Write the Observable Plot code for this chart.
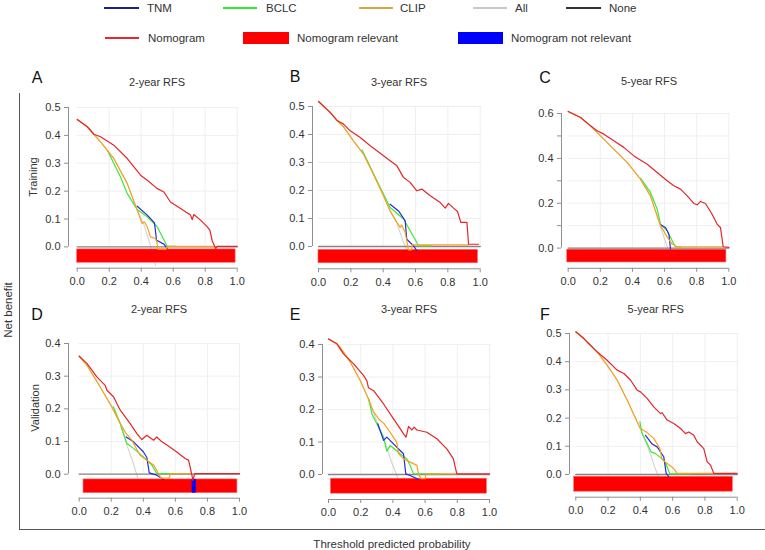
<!DOCTYPE html>
<html>
<head>
<meta charset="utf-8">
<script src="https://cdn.jsdelivr.net/npm/d3@7"></script>
<script src="https://cdn.jsdelivr.net/npm/@observablehq/plot@0.6"></script>
<style>
  html, body { margin: 0; padding: 0; background: #fff; }
  #root { position: relative; width: 765px; height: 550px; overflow: hidden; background: #fff;
          font-family: 'Liberation Sans', Arial, Helvetica, sans-serif; color: #333; }
  .abs { position: absolute; white-space: nowrap; }
  .ctr { transform: translate(-50%, -50%); }
  .rot { transform: translate(-50%, -50%) rotate(-90deg); }
</style>
</head>
<body>
<div id="root"></div>
<script>
// ---------------- DATA ----------------
const xTicks = [0, 0.2, 0.4, 0.6, 0.8, 1.0];
const xTickLabels = ["0.0", "0.2", "0.4", "0.6", "0.8", "1.0"];

const yTicksA = [0, 0.1, 0.2, 0.3, 0.4, 0.5];
const yLabelsA = ["0.0", "0.1", "0.2", "0.3", "0.4", "0.5"];
const yTicksC = [0, 0.1, 0.2, 0.3, 0.4, 0.5, 0.6];
const yLabelsC = ["0.0", "", "0.2", "", "0.4", "", "0.6"];
const yTicksD = [0, 0.1, 0.2, 0.3, 0.4];
const yLabelsD = ["0.0", "0.1", "0.2", "0.3", "0.4"];

const panelLetters = ["A", "B", "C", "D", "E", "F"];
const panelTitles = ["2-year RFS", "3-year RFS", "5-year RFS", "2-year RFS", "3-year RFS", "5-year RFS"];
const rowLabels = ["Training", "Validation"];

const legendRow1 = ["TNM", "BCLC", "CLIP", "All", "None"];
const legendRow1Colors = ["#1e1e8c", "#33ea33", "#dca63e", "#c8c8c8", "#333333"];
const legendRow2 = ["Nomogram", "Nomogram relevant", "Nomogram not relevant"];
const legendRow2Colors = ["#e8282e", "#ff0000", "#0000ff"];

const noneLine = [[0, 0], [1, 0]];

// Panel A (Training, 2-year)
const nomA = [[0,0.457],[0.063,0.431],[0.104,0.404],[0.146,0.395],[0.229,0.365],[0.313,0.317],[0.396,0.257],[0.438,0.239],[0.5,0.209],[0.542,0.197],[0.583,0.161],[0.646,0.138],[0.708,0.114],[0.719,0.098],[0.729,0.116],[0.771,0.096],[0.813,0.072],[0.829,0.060],[0.844,0.022],[0.865,-0.006],[0.875,0.002],[1.0,0.002]];
const clipA = [[0,0.457],[0.063,0.431],[0.104,0.404],[0.146,0.377],[0.229,0.317],[0.313,0.227],[0.375,0.132],[0.406,0.084],[0.42,0.090],[0.438,0.072],[0.458,0.036],[0.49,0.030],[0.5,0.012],[0.503,-0.008],[0.556,-0.008],[0.562,0.002],[0.87,0.002]];
const bclcA = [[0.19,0.345],[0.271,0.251],[0.313,0.191],[0.375,0.134],[0.438,0.108],[0.5,0.072],[0.5625,0.002],[0.62,0.002]];
const tnmA = [[0.375,0.146],[0.438,0.114],[0.483,0.086],[0.496,0.024],[0.542,0.010],[0.5625,-0.006]];
const allA = [[0,0.457],[0.063,0.431],[0.104,0.404],[0.146,0.377],[0.229,0.317],[0.313,0.227],[0.375,0.132],[0.417,0.080],[0.45,0.020],[0.49,-0.066]];
const relA = [[0, 0.99]];
const notRelA = [];
const bandA = [-0.009, -0.057];

// Panel B (Training, 3-year)
const nomB = [[0,0.518],[0.072,0.479],[0.113,0.451],[0.155,0.437],[0.196,0.413],[0.258,0.389],[0.32,0.36],[0.361,0.342],[0.443,0.306],[0.485,0.288],[0.526,0.246],[0.567,0.229],[0.608,0.199],[0.639,0.205],[0.691,0.181],[0.753,0.157],[0.784,0.137],[0.804,0.154],[0.835,0.137],[0.86,0.125],[0.88,0.086],[0.918,0.086],[0.928,0.008],[0.99,0.008]];
const clipB = [[0,0.518],[0.072,0.479],[0.113,0.451],[0.155,0.427],[0.216,0.377],[0.278,0.33],[0.34,0.258],[0.402,0.181],[0.443,0.127],[0.485,0.086],[0.505,0.068],[0.515,0.077],[0.536,0.05],[0.546,0.02],[0.556,-0.012],[0.575,-0.012],[0.58,0.006],[0.928,0.006]];
const bclcB = [[0.27,0.345],[0.361,0.235],[0.443,0.139],[0.526,0.098],[0.608,0.014],[0.619,0.002],[0.7,0.002]];
const tnmB = [[0.443,0.151],[0.495,0.127],[0.536,0.092],[0.546,0.026],[0.588,0.002],[0.608,-0.015]];
const allB = [[0,0.518],[0.072,0.479],[0.113,0.451],[0.155,0.427],[0.216,0.377],[0.278,0.33],[0.34,0.258],[0.402,0.181],[0.443,0.127],[0.485,0.082],[0.52,0.025],[0.546,-0.015],[0.565,-0.06]];
const relB = [[0, 0.986]];
const notRelB = [];
const bandB = [-0.012, -0.06];

// Panel C (Training, 5-year)
const nomC = [[0,0.609],[0.077,0.582],[0.139,0.545],[0.18,0.523],[0.222,0.508],[0.284,0.478],[0.346,0.449],[0.409,0.411],[0.492,0.374],[0.554,0.337],[0.616,0.30],[0.658,0.278],[0.699,0.263],[0.741,0.233],[0.782,0.199],[0.803,0.193],[0.824,0.208],[0.855,0.199],[0.896,0.151],[0.927,0.107],[0.948,0.092],[0.965,0.006],[1.0,0.003]];
const clipC = [[0,0.609],[0.077,0.582],[0.139,0.545],[0.201,0.50],[0.284,0.441],[0.367,0.382],[0.45,0.307],[0.512,0.233],[0.575,0.10],[0.616,0.05],[0.647,0.018],[0.678,0.006],[0.965,0.006]];
const bclcC = [[0.45,0.312],[0.512,0.248],[0.554,0.174],[0.575,0.107],[0.616,0.077],[0.658,0.018],[0.668,0.006],[0.70,0.006]];
const tnmC = [[0.575,0.104],[0.606,0.092],[0.627,0.062],[0.637,-0.004]];
const allC = [[0,0.609],[0.077,0.582],[0.139,0.545],[0.201,0.50],[0.284,0.441],[0.367,0.382],[0.45,0.307],[0.512,0.233],[0.57,0.105],[0.6,0.04],[0.62,0.0],[0.64,-0.05]];
const relC = [[-0.006, 0.985]];
const notRelC = [];
const bandC = [-0.007, -0.064];

// Panel D (Validation, 2-year)
const nomD = [[0,0.361],[0.048,0.339],[0.11,0.298],[0.162,0.272],[0.173,0.257],[0.214,0.237],[0.256,0.196],[0.318,0.155],[0.36,0.124],[0.391,0.106],[0.422,0.119],[0.464,0.104],[0.484,0.114],[0.516,0.099],[0.547,0.089],[0.609,0.068],[0.661,0.048],[0.682,0.043],[0.692,0.022],[0.703,-0.003],[0.71,-0.02],[0.72,0.002],[1.0,0.002]];
const clipD = [[0,0.361],[0.048,0.334],[0.131,0.267],[0.204,0.206],[0.256,0.155],[0.293,0.124],[0.328,0.104],[0.38,0.058],[0.422,0.043],[0.464,0.028],[0.495,0.002],[0.51,-0.012],[0.56,-0.012],[0.57,0.002],[0.70,0.002]];
const bclcD = [[0.214,0.206],[0.256,0.155],[0.297,0.094],[0.339,0.079],[0.401,0.053],[0.453,0.028],[0.484,0.002],[0.578,0.002]];
const tnmD = [[0.293,0.114],[0.339,0.099],[0.401,0.068],[0.422,0.051],[0.437,0.004],[0.484,-0.003],[0.526,-0.016]];
const allD = [[0,0.361],[0.048,0.334],[0.131,0.267],[0.204,0.206],[0.256,0.155],[0.3,0.085],[0.33,0.045],[0.36,-0.003],[0.38,-0.04]];
const relD = [[0.027, 0.987]];
const notRelD = [[0.705, 0.73]];
const bandD = [-0.016, -0.058];

// Panel E (Validation, 3-year)
const nomE = [[0,0.417],[0.052,0.402],[0.093,0.371],[0.155,0.341],[0.217,0.305],[0.238,0.289],[0.248,0.267],[0.28,0.258],[0.342,0.217],[0.404,0.171],[0.445,0.141],[0.466,0.125],[0.482,0.115],[0.497,0.148],[0.518,0.137],[0.532,0.146],[0.549,0.137],[0.611,0.13],[0.673,0.11],[0.735,0.079],[0.776,0.048],[0.787,0.023],[0.797,0.002],[1.0,0.002]];
const clipE = [[0,0.417],[0.052,0.402],[0.072,0.392],[0.135,0.346],[0.197,0.289],[0.248,0.233],[0.275,0.197],[0.311,0.171],[0.342,0.158],[0.383,0.13],[0.424,0.099],[0.435,0.064],[0.466,0.048],[0.549,0.028],[0.559,0.002],[0.575,-0.013],[0.6,-0.013],[0.605,0.002],[0.797,0.002]];
const bclcE = [[0.248,0.233],[0.259,0.212],[0.269,0.187],[0.30,0.156],[0.342,0.115],[0.362,0.072],[0.383,0.089],[0.445,0.064],[0.487,0.048],[0.507,0.028],[0.528,0.002],[0.683,0.002]];
const tnmE = [[0.306,0.156],[0.342,0.105],[0.362,0.115],[0.424,0.084],[0.466,0.064],[0.48,0.002],[0.507,-0.003],[0.559,-0.015]];
const allE = [[0,0.417],[0.052,0.402],[0.072,0.392],[0.135,0.346],[0.197,0.289],[0.248,0.233],[0.3,0.163],[0.342,0.11],[0.362,0.084],[0.39,0.04],[0.424,-0.003],[0.45,-0.05]];
const relE = [[0.015, 0.984]];
const notRelE = [];
const bandE = [-0.013, -0.059];

// Panel F (Validation, 5-year)
const nomF = [[0,0.506],[0.05,0.482],[0.07,0.47],[0.132,0.435],[0.194,0.405],[0.256,0.37],[0.298,0.358],[0.339,0.335],[0.38,0.299],[0.401,0.293],[0.442,0.27],[0.483,0.24],[0.525,0.216],[0.535,0.219],[0.566,0.193],[0.607,0.181],[0.649,0.163],[0.68,0.145],[0.7,0.151],[0.731,0.139],[0.752,0.116],[0.793,0.092],[0.814,0.045],[0.835,0.033],[0.855,0.004],[1.0,0.004]];
const clipF = [[0,0.506],[0.05,0.482],[0.07,0.47],[0.132,0.435],[0.194,0.388],[0.256,0.335],[0.318,0.264],[0.38,0.187],[0.401,0.163],[0.436,0.151],[0.483,0.128],[0.521,0.092],[0.535,0.053],[0.566,0.039],[0.607,0.021],[0.628,0.004],[0.855,0.004]];
const bclcF = [[0.397,0.187],[0.411,0.145],[0.442,0.11],[0.467,0.08],[0.494,0.074],[0.545,0.051],[0.566,0.027],[0.583,0.002],[0.71,0.002]];
const tnmF = [[0.432,0.139],[0.473,0.108],[0.504,0.098],[0.545,0.063],[0.56,0.004],[0.576,-0.008]];
const allF = [[0,0.506],[0.05,0.482],[0.07,0.47],[0.132,0.435],[0.194,0.388],[0.256,0.335],[0.318,0.264],[0.38,0.187],[0.42,0.135],[0.46,0.075],[0.49,0.025],[0.51,-0.005],[0.53,-0.04]];
const relF = [[-0.01, 0.973]];
const notRelF = [];
const bandF = [-0.008, -0.061];

// ---------------- STYLES & LAYOUT ----------------
const COL = { nom: "#e3262b", tnm: "#2a2ae0", bclc: "#3be83b", clip: "#f4a21e", all: "#d2d2d2", none: "#858585",
              rel: "#ff0000", notRel: "#0000ff", axis: "#8f8f8f", grid: "#efefef", text: "#333" };
const FONT = "'Liberation Sans', Arial, Helvetica, sans-serif";

// L: y-axis line px, B: x-axis line px, x0/x1: px of x=0/1, y0: px of y=0, yT: px of top tick T
const layouts = [
  { L: 68,    B: 268,   x0: 76.7,  x1: 236.7, y0: 246.7, T: 0.5, yT: 107.3, letter: [37, 78],  title: [157, 82] },
  { L: 312.3, B: 268,   x0: 318.3, x1: 480,   y0: 245.7, T: 0.5, yT: 105.7, letter: [295, 77], title: [399, 82] },
  { L: 561,   B: 267.5, x0: 567.7, x1: 728.3, y0: 247.3, T: 0.6, yT: 112.7, letter: [545, 78], title: [649, 81] },
  { L: 68.3,  B: 498,   x0: 79,    x1: 239.3, y0: 474,   T: 0.4, yT: 343.3, letter: [37, 315], title: [159, 309] },
  { L: 322.3, B: 499,   x0: 328.3, x1: 489.3, y0: 474,   T: 0.4, yT: 344,   letter: [295, 315], title: [409, 309] },
  { L: 569,   B: 497,   x0: 575.3, x1: 736.7, y0: 474.3, T: 0.5, yT: 333.3, letter: [545, 315], title: [655.7, 309] }
];

const panels = [
  { nom: nomA, tnm: tnmA, bclc: bclcA, clip: clipA, all: allA, rel: relA, notRel: notRelA, band: bandA, yTicks: yTicksA, yLabels: yLabelsA },
  { nom: nomB, tnm: tnmB, bclc: bclcB, clip: clipB, all: allB, rel: relB, notRel: notRelB, band: bandB, yTicks: yTicksA, yLabels: yLabelsA },
  { nom: nomC, tnm: tnmC, bclc: bclcC, clip: clipC, all: allC, rel: relC, notRel: notRelC, band: bandC, yTicks: yTicksC, yLabels: yLabelsC },
  { nom: nomD, tnm: tnmD, bclc: bclcD, clip: clipD, all: allD, rel: relD, notRel: notRelD, band: bandD, yTicks: yTicksD, yLabels: yLabelsD },
  { nom: nomE, tnm: tnmE, bclc: bclcE, clip: clipE, all: allE, rel: relE, notRel: notRelE, band: bandE, yTicks: yTicksD, yLabels: yLabelsD },
  { nom: nomF, tnm: tnmF, bclc: bclcF, clip: clipF, all: allF, rel: relF, notRel: notRelF, band: bandF, yTicks: yTicksA, yLabels: yLabelsA }
];

const root = document.getElementById("root");

function addText(txt, x, y, size, cls, extra) {
  const d = document.createElement("div");
  d.className = "abs " + cls;
  d.textContent = txt;
  d.style.left = x + "px";
  d.style.top = y + "px";
  d.style.fontSize = size + "px";
  if (extra) Object.assign(d.style, extra);
  root.appendChild(d);
  return d;
}

function drawPanel(p, lay, i) {
  const sx = lay.x1 - lay.x0;
  const sy = (lay.y0 - lay.yT) / lay.T;
  const right = lay.x1 + 7, top = lay.yT - 8;
  const xmin = (lay.L - lay.x0) / sx, xmax = (right - lay.x0) / sx;
  const ymin = -(lay.B - lay.y0) / sy, ymax = (lay.y0 - top) / sy;
  const mL = 34, mR = 4, mT = 2, mB = 26;
  const ymaxTick = p.yTicks[p.yTicks.length - 1];
  const line = (data, color, w) => Plot.line(data, { x: d => d[0], y: d => d[1], stroke: color, strokeWidth: w, clip: true });
  const chart = Plot.plot({
    width: mL + (right - lay.L) + mR,
    height: mT + (lay.B - top) + mB,
    marginLeft: mL, marginRight: mR, marginTop: mT, marginBottom: mB,
    style: { fontFamily: FONT, fontSize: "11px", background: "transparent", overflow: "visible" },
    x: { domain: [xmin, xmax] },
    y: { domain: [ymin, ymax] },
    marks: [
      Plot.ruleY(p.yTicks, { x1: 0, x2: 1.01, stroke: COL.grid, strokeWidth: 1 }),
      Plot.ruleX(xTicks.slice(1), { y1: 0, y2: ymaxTick, stroke: COL.grid, strokeWidth: 1 }),
      Plot.ruleX([xmin], { y1: 0, y2: ymaxTick, stroke: COL.axis, strokeWidth: 1 }),
      Plot.ruleY([ymin], { x1: 0, x2: 1, stroke: COL.axis, strokeWidth: 1 }),
      Plot.axisX({ ticks: xTicks, tickFormat: d => xTickLabels[xTicks.indexOf(d)], tickSize: 4, tickPadding: 5,
                   stroke: COL.axis, fill: COL.text, label: null }),
      Plot.axisY({ ticks: p.yTicks, tickFormat: d => p.yLabels[p.yTicks.indexOf(d)], tickSize: 4, tickPadding: 4,
                   stroke: COL.axis, fill: COL.text, label: null }),
      line(p.all, COL.all, 1.1),
      Plot.rect(p.rel, { x1: d => d[0], x2: d => d[1], y1: p.band[0], y2: p.band[1], fill: COL.rel, stroke: "#ff6a6a", strokeWidth: 0.6 }),
      Plot.rect(p.notRel, { x1: d => d[0], x2: d => d[1], y1: p.band[0], y2: p.band[1], fill: COL.notRel }),
      line(noneLine, COL.none, 1.3),
      line(p.bclc, COL.bclc, 1.2),
      line(p.tnm, COL.tnm, 1.2),
      line(p.clip, COL.clip, 1.2),
      line(p.nom, COL.nom, 1.2)
    ]
  });
  chart.style.position = "absolute";
  chart.style.left = (lay.L - mL) + "px";
  chart.style.top = (top - mT) + "px";
  root.appendChild(chart);

  addText(panelLetters[i], lay.letter[0], lay.letter[1], 16, "ctr", { color: "#111" });
  addText(panelTitles[i], lay.title[0], lay.title[1], 11, "ctr", { color: COL.text });
}

// frame
const frame = document.createElement("div");
frame.className = "abs";
Object.assign(frame.style, { left: "19px", top: "93px", width: "760px", height: "436px",
  borderLeft: "1px solid #555", borderBottom: "1px solid #555" });
root.appendChild(frame);

panels.forEach((p, i) => drawPanel(p, layouts[i], i));

addText(rowLabels[0], 33, 177, 11, "rot", { color: COL.text });
addText(rowLabels[1], 35, 408, 11, "rot", { color: COL.text });
addText("Net benefit", 8, 310, 11.5, "rot", { color: COL.text });
addText("Threshold predicted probability", 392, 544, 11.5, "ctr", { color: COL.text });

// legend
const row1Pos = [[104, 139, 147], [223, 257, 266], [359, 393, 400], [473, 507, 515], [566, 601, 609]];
legendRow1.forEach((lab, i) => {
  const [a, b, t] = row1Pos[i];
  const ln = document.createElement("div");
  ln.className = "abs";
  Object.assign(ln.style, { left: a + "px", top: "7px", width: (b - a) + "px", height: "2px", background: legendRow1Colors[i] });
  root.appendChild(ln);
  addText(lab, t, 1, 11.5, "", { color: COL.text, lineHeight: "14px" });
});
const row2Pos = [[105, 139, 148, "line"], [243, 289, 297, "rect"], [458, 503, 511, "rect"]];
legendRow2.forEach((lab, i) => {
  const [a, b, t, kind] = row2Pos[i];
  const sw = document.createElement("div");
  sw.className = "abs";
  if (kind === "line") {
    Object.assign(sw.style, { left: a + "px", top: "37px", width: (b - a) + "px", height: "2px", background: legendRow2Colors[i] });
  } else {
    Object.assign(sw.style, { left: a + "px", top: "32px", width: (b - a) + "px", height: "12px", background: legendRow2Colors[i] });
  }
  root.appendChild(sw);
  addText(lab, t, 31, 11.5, "", { color: COL.text, lineHeight: "14px" });
});
</script>
</body>
</html>
